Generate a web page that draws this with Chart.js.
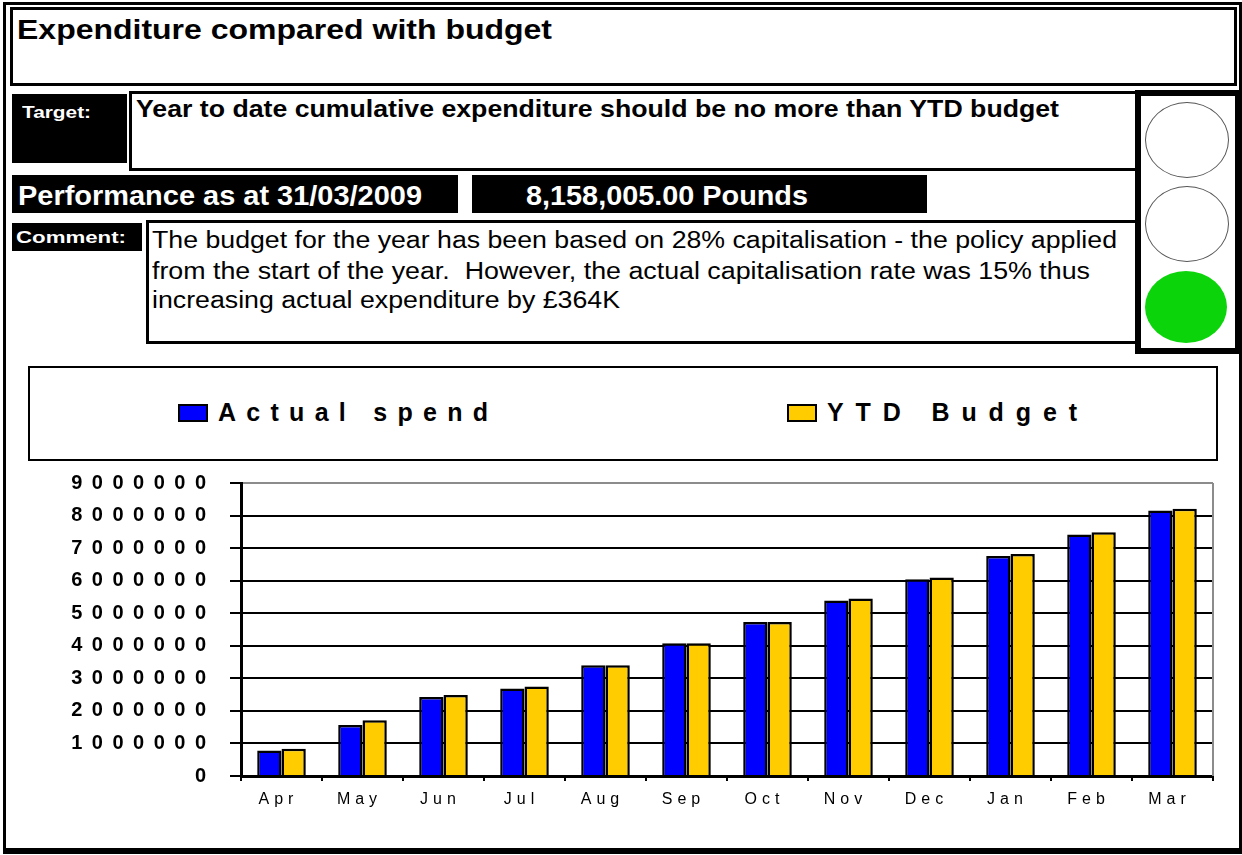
<!DOCTYPE html>
<html><head><meta charset="utf-8">
<script src="https://cdn.jsdelivr.net/npm/chart.js@4.4.1/dist/chart.umd.min.js"></script>
<style>
html,body{margin:0;padding:0;background:#fff;}
body{width:1242px;height:855px;position:relative;overflow:hidden;font-family:"Liberation Sans",Arial,sans-serif;color:#000;}
.abs{position:absolute;box-sizing:border-box;}
.t{position:absolute;white-space:nowrap;line-height:1;transform-origin:0 0;}
.b{font-weight:bold;}
.w{color:#fff;}
.lamp{position:absolute;box-sizing:border-box;border-radius:50%;}
#legendItems .sw{position:absolute;box-sizing:border-box;border:2px solid #000;width:30px;height:18px;}
#legendItems .lt{position:absolute;white-space:nowrap;line-height:1;font-weight:bold;font-size:25px;}
</style></head><body>
<!-- outer frame -->
<div class="abs" style="left:3px;top:2px;width:1239px;height:852px;border:3px solid #000;border-bottom-width:6px"></div>
<!-- title -->
<div class="abs" style="left:10px;top:7px;width:1227px;height:79px;border:3px solid #000"></div>
<div class="t b" data-w="535" style="left:17px;top:16.5px;font-size:27px">Expenditure compared with budget</div>
<!-- target -->
<div class="abs" style="left:12px;top:94px;width:115px;height:69px;background:#000"></div>
<div class="t b w" data-w="69" style="left:22px;top:104.5px;font-size:16px">Target:</div>
<div class="abs" style="left:129px;top:91px;width:1010px;height:80px;border:3px solid #000"></div>
<div class="t b" data-w="923" style="left:136px;top:97.5px;font-size:23px">Year to date cumulative expenditure should be no more than YTD budget</div>
<!-- performance -->
<div class="abs" style="left:12px;top:175px;width:446px;height:38px;background:#000"></div>
<div class="t b w" data-w="404" style="left:18px;top:182.5px;font-size:27px">Performance as at 31/03/2009</div>
<div class="abs" style="left:472px;top:175px;width:455px;height:38px;background:#000"></div>
<div class="t b w" data-w="282" style="left:526px;top:182.5px;font-size:27px">8,158,005.00 Pounds</div>
<!-- comment -->
<div class="abs" style="left:12px;top:223px;width:130px;height:28px;background:#000"></div>
<div class="t b w" data-w="110" style="left:16px;top:228.6px;font-size:17px">Comment:</div>
<div class="abs" style="left:146px;top:220px;width:993px;height:124px;border:3px solid #000"></div>
<div class="t" data-w="965" style="left:152px;top:228.5px;font-size:23px">The budget for the year has been based on 28% capitalisation - the policy applied</div>
<div class="t" data-w="938" style="left:152px;top:259.5px;font-size:23px">from the start of the year.&nbsp; However, the actual capitalisation rate was 15% thus</div>
<div class="t" data-w="468" style="left:152px;top:289px;font-size:23px">increasing actual expenditure by £364K</div>
<!-- traffic light -->
<div class="abs" style="left:1135px;top:90px;width:106px;height:264px;border:6px solid #000;background:#fff"></div>
<div class="lamp" style="left:1145px;top:102px;width:84px;height:76px;border:1px solid #555;background:#fff"></div>
<div class="lamp" style="left:1145px;top:186px;width:84px;height:76px;border:1px solid #555;background:#fff"></div>
<div class="lamp" style="left:1145px;top:271px;width:82px;height:72px;background:#0bd40b"></div>
<!-- legend -->
<div class="abs" style="left:28px;top:366px;width:1190px;height:95px;border:2px solid #000"></div>
<div id="legendItems"></div>
<!-- chart -->
<canvas id="c" width="1242" height="370" style="position:absolute;left:0;top:470px;width:1242px;height:370px"></canvas>
<script>
const months = ['Apr','May','Jun','Jul','Aug','Sep','Oct','Nov','Dec','Jan','Feb','Mar'];
const actualSpend = [780000,1570000,2430000,2690000,3400000,4080000,4730000,5390000,6040000,6760000,7420000,8158005];
const ytdBudget = [840000,1710000,2490000,2750000,3400000,4080000,4730000,5450000,6100000,6820000,7490000,8210000];
const yTicks = [0,1000000,2000000,3000000,4000000,5000000,6000000,7000000,8000000,9000000];
const seriesNames = ['Actual spend','YTD Budget'];
const seriesColors = ['#0000ff','#ffcc00'];

const FAM = "'Liberation Sans', Arial, sans-serif";

const spacingPlugin = {
  id:'spacing',
  afterUpdate(chart){
    for (const [id, ls] of [['x','5px'],['y','9.5px']]) {
      const s = chart.scales[id];
      if (s && !s._lsWrapped) {
        const orig = s.drawLabels;
        s.drawLabels = function(a){ const c=this.ctx; c.save(); c.letterSpacing=ls; orig.call(this,a); c.restore(); };
        s._lsWrapped = true;
      }
    }
  }
};
const framePlugin = {
  id:'frame',
  beforeDatasetsDraw(chart){
    const {ctx, chartArea:a} = chart;
    ctx.save(); ctx.strokeStyle='#8c8c8c'; ctx.lineWidth=2;
    ctx.beginPath(); ctx.moveTo(a.right, a.top); ctx.lineTo(a.right, a.bottom); ctx.stroke();
    ctx.restore();
  }
};

const chart = new Chart(document.getElementById('c'), {
  type:'bar',
  data:{
    labels: months,
    datasets:[
      {label:seriesNames[0], data:actualSpend, backgroundColor:seriesColors[0], borderColor:'#000', borderWidth:2.5},
      {label:seriesNames[1], data:ytdBudget, backgroundColor:seriesColors[1], borderColor:'#000', borderWidth:2.5}
    ]
  },
  options:{
    responsive:false, animation:false,
    layout:{padding:{top:13,right:29,left:0,bottom:0}},
    plugins:{legend:{display:false}, tooltip:{enabled:false}},
    datasets:{bar:{categoryPercentage:0.6, barPercentage:1}},
    scales:{
      x:{
        grid:{drawOnChartArea:false, color:'#000', lineWidth:2, tickLength:5, offset:true},
        border:{color:'#000', width:3},
        ticks:{color:'#000', font:{family:FAM, size:16}, padding:9, maxRotation:0, autoSkip:false, labelOffset:-3},
        afterFit(s){ s.height = 64; s.paddingLeft = 0; s.paddingRight = 0; }
      },
      y:{
        min:0, max:9000000,
        afterBuildTicks(s){ s.ticks = yTicks.map(v=>({value:v})); },
        grid:{color:(c)=> (c.tick && c.tick.value===9000000) ? '#8c8c8c' : '#000', lineWidth:2, tickLength:11, tickColor:'#000'},
        border:{color:'#000', width:3},
        ticks:{color:'#000', font:{family:FAM, size:20, weight:'bold'}, padding:14.5, callback:(v)=>String(v)},
        afterFit(s){ s.width = 241; s.paddingTop = 0; s.paddingBottom = 0; }
      }
    }
  },
  plugins:[spacingPlugin, framePlugin]
});

// HTML legend built from the chart's datasets
const legendPos = [178, 787];
const legendTextW = [270, 250];
const li = document.getElementById('legendItems');
chart.data.datasets.forEach((ds,i)=>{
  const sw = document.createElement('div'); sw.className='sw';
  sw.style.left = legendPos[i]+'px'; sw.style.top='404px'; sw.style.background = ds.backgroundColor;
  const lt = document.createElement('div'); lt.className='lt';
  lt.style.left = (legendPos[i]+40)+'px'; lt.style.top = (421-0.8465*25)+'px';
  lt.textContent = ds.label;
  li.appendChild(sw); li.appendChild(lt);
  const nat = lt.getBoundingClientRect().width;
  const n = ds.label.length;
  lt.style.letterSpacing = ((legendTextW[i]-nat)/(n-1)) + 'px';
});

// stretch texts horizontally to match the reference widths
document.querySelectorAll('[data-w]').forEach(el=>{
  const w = el.getBoundingClientRect().width;
  el.style.transform = 'scaleX(' + (parseFloat(el.dataset.w)/w) + ')';
});
</script>
</body></html>
